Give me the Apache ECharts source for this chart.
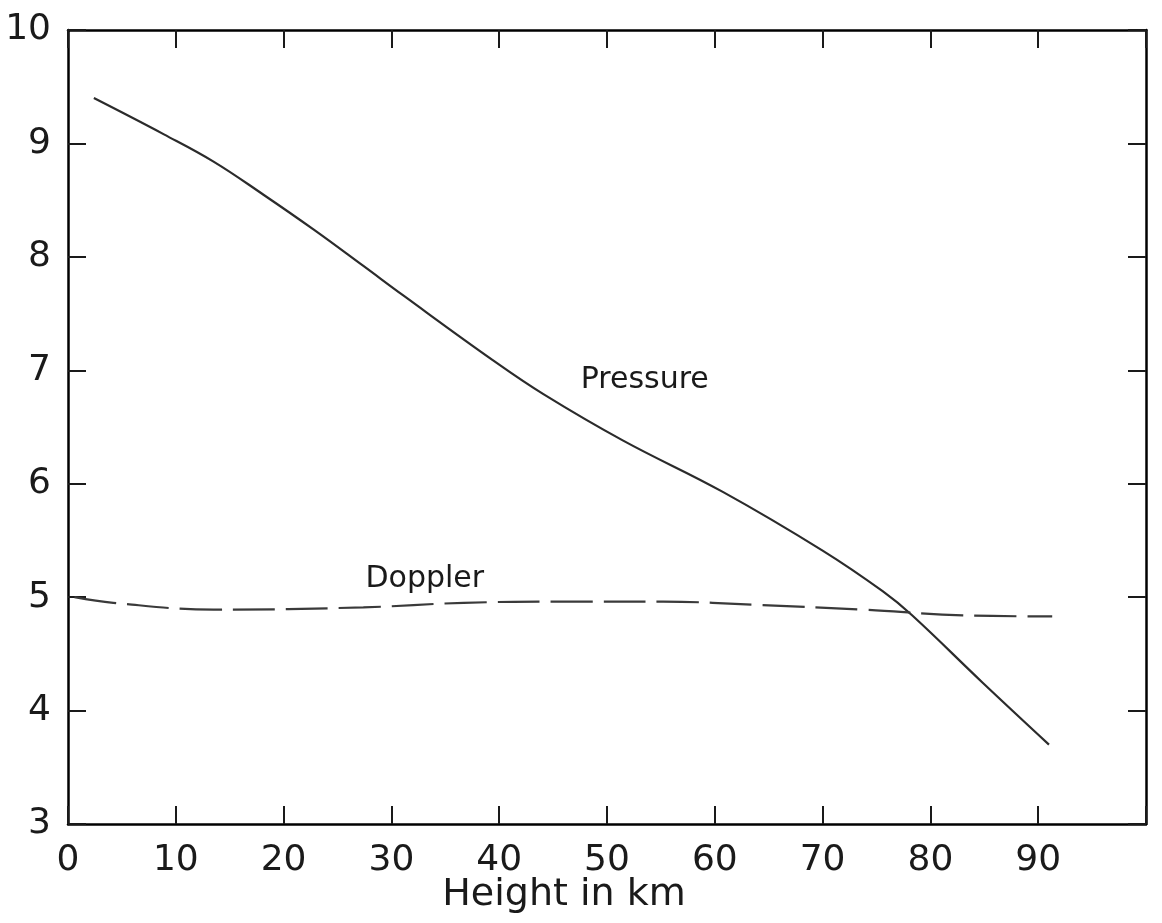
<!DOCTYPE html>
<html>
<head>
<meta charset="utf-8">
<title>Pressure and Doppler vs height</title>
<script src="https://cdn.jsdelivr.net/npm/echarts@6/dist/echarts.min.js"></script>
<style>
  html, body { margin: 0; padding: 0; background: #fff; }
  #chart { width: 1162px; height: 923px; }
</style>
</head>
<body>
<div id="chart"></div>
<script>
// values (height in km, y value)
var pressureHeights = [2.4, 8.9, 13.5, 18.1, 22.8, 27.4, 31.1, 39.4, 44.1, 51.5, 60.7, 70, 75.6, 78.3, 84.8, 91];
var pressureValues  = [9.40, 9.08, 8.84, 8.55, 8.24, 7.92, 7.66, 7.09, 6.79, 6.38, 5.93, 5.41, 5.05, 4.84, 4.25, 3.70];

var dopplerHeights = [0.6, 4.2, 13.5, 27.4, 36.7, 45.9, 55.2, 64.4, 73.7, 83, 91.3];
var dopplerValues  = [5.00, 4.95, 4.89, 4.91, 4.95, 4.96, 4.96, 4.93, 4.89, 4.84, 4.83];

var xTicks = [0, 10, 20, 30, 40, 50, 60, 70, 80, 90];
var yTicks = [3, 4, 5, 6, 7, 8, 9, 10];

// where the curve names sit, in data units
var curveLabels = [
    {text: 'Pressure', at: [53.5, 6.91]},
    {text: 'Doppler', at: [33.1, 5.16]}
];

function pairs(xs, ys) {
    var res = [];
    xs.map(function(x, i) {
        res.push([x, ys[i]]);
    });
    return res;
}

var FONT = '"DejaVu Sans", Verdana, sans-serif';
var INK = '#1a1a1a';

var myChart = echarts.init(document.getElementById('chart'));

var tickStyle = {show: true, inside: true, length: 18, lineStyle: {color: INK, width: 2}};
// onZero off, otherwise the right axis jumps to x = 0
var axisLine = {show: true, onZero: false, lineStyle: {color: '#000', width: 2.5}};

myChart.setOption({
    animation: false,
    backgroundColor: '#fff',
    // keep the plot box fixed, do not shrink it to fit the labels
    grid: {left: 68, right: 16, top: 30, bottom: 99, containLabel: false, outerBoundsMode: 'none'},
    xAxis: [{
        type: 'value',
        min: 0,
        max: 100,
        interval: 10,
        name: 'Height in km',
        nameLocation: 'middle',
        nameGap: 52,
        nameMoveOverlap: false,
        nameTextStyle: {fontFamily: FONT, fontSize: 38, color: INK, padding: [0, 86, 0, 0]},
        axisLine: axisLine,
        axisTick: tickStyle,
        splitLine: {show: false},
        axisLabel: {
            fontFamily: FONT,
            fontSize: 36,
            color: INK,
            margin: 19,
            formatter: function(v) {
                return xTicks.indexOf(v) >= 0 ? String(v) : '';
            }
        }
    }, {
        type: 'value',
        position: 'top',
        min: 0,
        max: 100,
        interval: 10,
        axisLine: axisLine,
        axisTick: tickStyle,
        axisLabel: {show: false},
        splitLine: {show: false}
    }],
    yAxis: [{
        type: 'value',
        min: 3,
        max: 10,
        interval: 1,
        axisLine: axisLine,
        axisTick: tickStyle,
        splitLine: {show: false},
        axisLabel: {
            fontFamily: FONT,
            fontSize: 36,
            color: INK,
            margin: 17,
            formatter: function(v) {
                return yTicks.indexOf(v) >= 0 ? String(v) : '';
            }
        }
    }, {
        type: 'value',
        position: 'right',
        min: 3,
        max: 10,
        interval: 1,
        axisLine: axisLine,
        axisTick: tickStyle,
        axisLabel: {show: false},
        splitLine: {show: false}
    }],
    series: [{
        name: 'Pressure',
        type: 'line',
        smooth: 0.4,
        symbol: 'none',
        lineStyle: {color: '#2b2b2b', width: 2.2},
        data: pairs(pressureHeights, pressureValues)
    }, {
        name: 'Doppler',
        type: 'line',
        smooth: 0.4,
        symbol: 'none',
        lineStyle: {color: '#3a3a3a', width: 2.2, type: [42, 11]},
        data: pairs(dopplerHeights, dopplerValues)
    }]
});

// curve names, placed through the chart's own scales
myChart.setOption({
    graphic: curveLabels.map(function(item) {
        var p = myChart.convertToPixel({gridIndex: 0}, item.at);
        return {
            type: 'text',
            x: p[0],
            y: p[1],
            style: {
                text: item.text,
                font: '30px ' + FONT,
                fill: INK,
                align: 'center',
                verticalAlign: 'middle'
            }
        };
    })
});
</script>
</body>
</html>
